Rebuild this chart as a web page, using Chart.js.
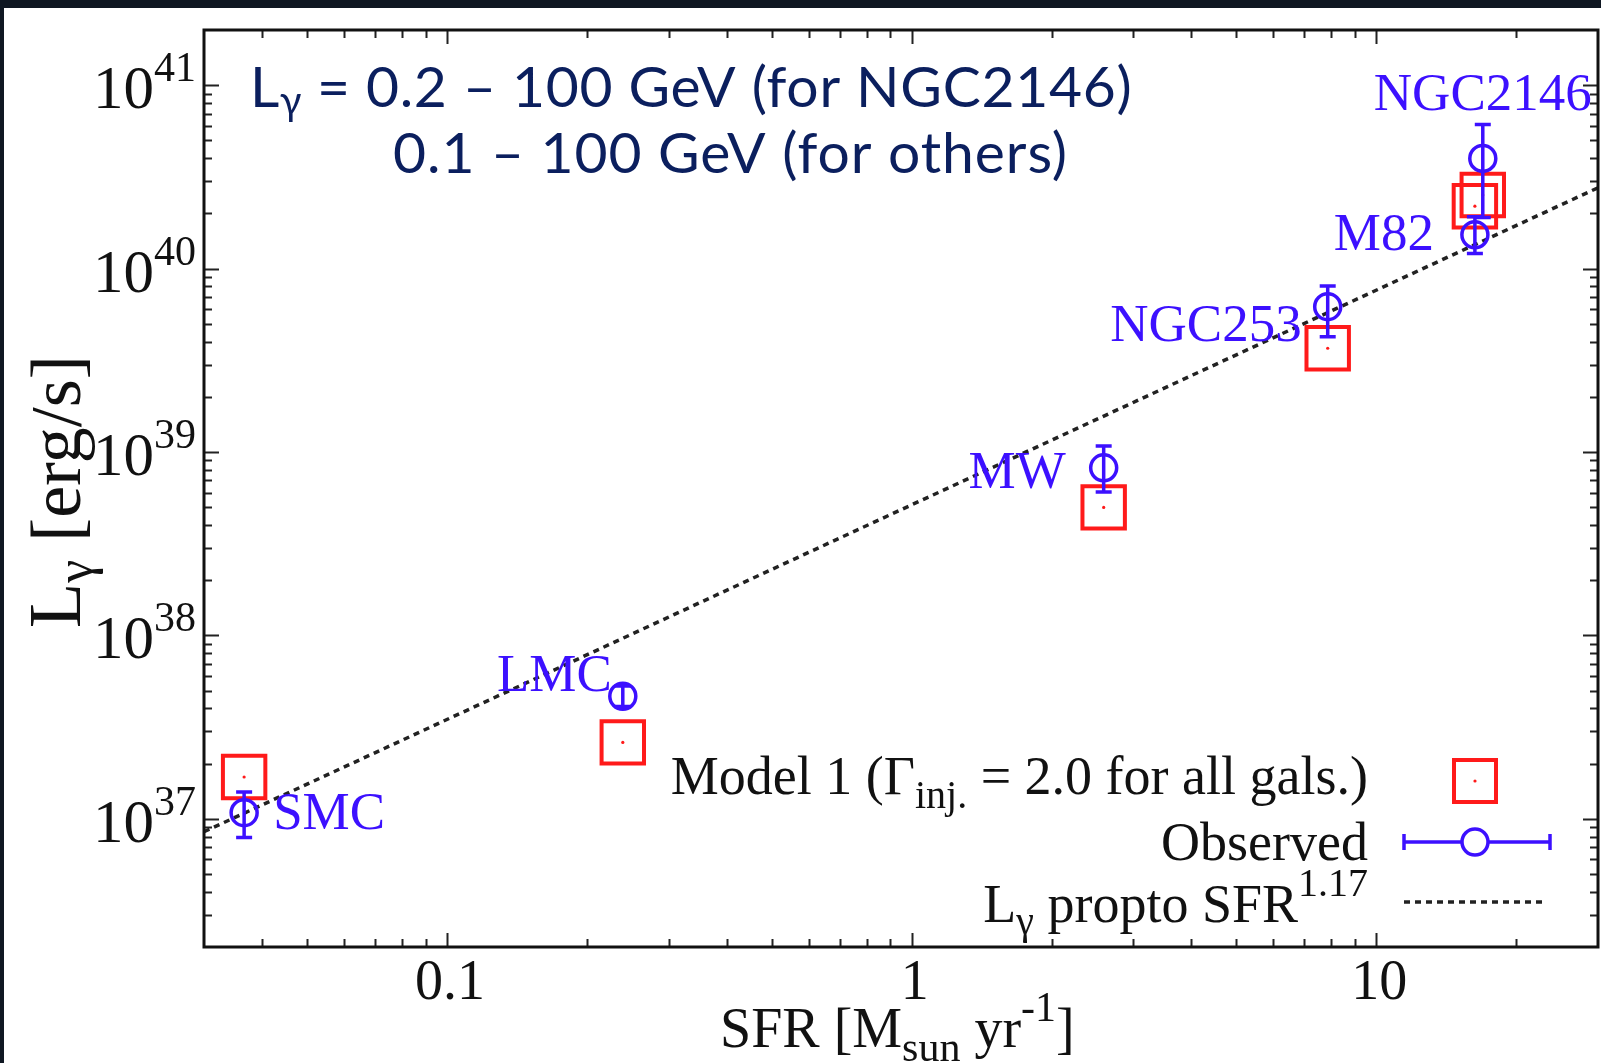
<!DOCTYPE html>
<html>
<head>
<meta charset="utf-8">
<script src="https://cdn.jsdelivr.net/npm/chart.js@4.4.1/dist/chart.umd.min.js"></script>
<style>
  html, body { margin: 0; padding: 0; background: #0f1722; overflow: hidden; }
  canvas { display: block; }
</style>
</head>
<body>
<canvas id="c" width="1601" height="1063" style="width:1601px;height:1063px"></canvas>
<script>
// Star-forming galaxies: star formation rate [Msun/yr] and gamma-ray luminosity [erg/s]
const galaxies   = ['SMC', 'LMC', 'MW', 'NGC253', 'M82', 'NGC2146'];
const sfr        = [0.0366, 0.239, 2.59, 7.86, 16.3, 16.95];
const obsLum     = [1.08e37, 4.66e37, 8.2e38, 6.2e39, 1.53e40, 3.99e40];
const obsLumLow  = [7.9e36, 4.1e37, 6.05e38, 4.25e39, 1.21e40, 1.9e40];
const obsLumHigh = [1.40e37, 5.3e37, 1.08e39, 8.05e39, 1.92e40, 6.1e40];
const modelLum   = [1.69e37, 2.61e37, 4.99e38, 3.68e39, 2.19e40, 2.52e40];

// Power-law relation L ~ SFR^1.17, end points of the drawn segment
const fitSfr = [0.03, 30];
const fitLum = [8.5e36, 2.76e40];

// Axis ticks
const xMajorTicks = [0.1, 1, 10];
const xTickLabels = ['0.1', '1', '10'];
const yMajorTicks = [1e37, 1e38, 1e39, 1e40, 1e41];
const yTickExponents = ['37', '38', '39', '40', '41'];
const minorMantissas = [2, 3, 4, 5, 6, 7, 8, 9];

// Label placement relative to each observed point: [dx, dy, align]
const labelPlacement = [
  [29, 16, 'left'],
  [-11, -5, 'right'],
  [-38, 20, 'right'],
  [-26, 34, 'right'],
  [-41, 15, 'right'],
  [0, -48, 'center']
];

const SERIF = '"Liberation Serif", "Times New Roman", serif';
const SANS = 'Lato, "Open Sans", sans-serif';
const BLUE = '#3c10ff';
const RED = '#ff1a1a';
const NAVY = '#0b1f5e';

function pts(xs, ys) { return xs.map((x, i) => ({ x: x, y: ys[i] })); }

function setFont(ctx, p) {
  ctx.font = (p.style || '') + ' ' + p.size + 'px ' + (p.family || SERIF);
  ctx.letterSpacing = p.ls ? p.ls + 'px' : '0px';
}
function richWidth(ctx, parts) {
  let w = 0;
  for (const p of parts) { setFont(ctx, p); w += ctx.measureText(p.t).width + (p.gap || 0); }
  return w;
}
function drawRich(ctx, parts, x, y, align, color) {
  const w = richWidth(ctx, parts);
  let cx = align === 'right' ? x - w : (align === 'center' ? x - w / 2 : x);
  ctx.textAlign = 'left';
  ctx.textBaseline = 'alphabetic';
  ctx.fillStyle = color;
  for (const p of parts) {
    setFont(ctx, p);
    ctx.fillText(p.t, cx, y + (p.dy || 0));
    cx += ctx.measureText(p.t).width + (p.gap || 0);
  }
  ctx.letterSpacing = '0px';
}

// Dark frame with the white page on top
const pagePlugin = {
  id: 'page',
  beforeDraw(chart) {
    const ctx = chart.ctx;
    ctx.save();
    ctx.fillStyle = '#0f1722';
    ctx.fillRect(0, 0, chart.width, chart.height);
    ctx.fillStyle = '#ffffff';
    ctx.fillRect(4, 8, chart.width - 4, chart.height - 8);
    ctx.restore();
  }
};

// Vertical error bars on the observed luminosities
const errorBarPlugin = {
  id: 'errorBars',
  afterDatasetsDraw(chart) {
    const ctx = chart.ctx, xs = chart.scales.x, ys = chart.scales.y;
    ctx.save();
    ctx.strokeStyle = BLUE;
    ctx.lineWidth = 3.5;
    for (let i = 0; i < sfr.length; i++) {
      const x = xs.getPixelForValue(sfr[i]);
      const y1 = ys.getPixelForValue(obsLumLow[i]);
      const y2 = ys.getPixelForValue(obsLumHigh[i]);
      ctx.beginPath();
      ctx.moveTo(x, y1); ctx.lineTo(x, y2);
      ctx.moveTo(x - 8, y1); ctx.lineTo(x + 8, y1);
      ctx.moveTo(x - 8, y2); ctx.lineTo(x + 8, y2);
      ctx.stroke();
    }
    ctx.restore();
  }
};

// Border box, inward ticks on all four sides, tick labels, titles, legend and notes
const framePlugin = {
  id: 'frame',
  afterDraw(chart) {
    const ctx = chart.ctx, xs = chart.scales.x, ys = chart.scales.y;
    const a = chart.chartArea;
    ctx.save();

    // ticks
    ctx.strokeStyle = '#222';
    ctx.lineWidth = 2;
    const xMinor = [], yMinor = [];
    for (let e = -2; e <= 1; e++) for (const m of minorMantissas) {
      const v = m * Math.pow(10, e);
      if (v > xs.min * 1.0001 && v < xs.max * 0.9999) xMinor.push(v);
    }
    for (let e = 36; e <= 41; e++) for (const m of minorMantissas) {
      const v = m * Math.pow(10, e);
      if (v > ys.min * 1.0001 && v < ys.max * 0.9999) yMinor.push(v);
    }
    ctx.beginPath();
    const xt = (v, len) => {
      const p = Math.round(xs.getPixelForValue(v)) + 0.5;
      ctx.moveTo(p, a.bottom); ctx.lineTo(p, a.bottom - len);
      ctx.moveTo(p, a.top); ctx.lineTo(p, a.top + len);
    };
    const yt = (v, len) => {
      const p = Math.round(ys.getPixelForValue(v)) + 0.5;
      ctx.moveTo(a.left, p); ctx.lineTo(a.left + len, p);
      ctx.moveTo(a.right, p); ctx.lineTo(a.right - len, p);
    };
    xMinor.forEach(v => xt(v, 8));
    xMajorTicks.forEach(v => xt(v, 14));
    yMinor.forEach(v => yt(v, 8));
    yMajorTicks.forEach(v => yt(v, 15));
    ctx.stroke();

    // border
    ctx.strokeStyle = '#111';
    ctx.lineWidth = 3;
    ctx.strokeRect(a.left, a.top, a.right - a.left, a.bottom - a.top);

    // x tick labels
    xMajorTicks.forEach((v, i) => {
      drawRich(ctx, [{ t: xTickLabels[i], size: 56 }], xs.getPixelForValue(v) + 3, 999, 'center', '#111');
    });
    // y tick labels
    yMajorTicks.forEach((v, i) => {
      const p = ys.getPixelForValue(v);
      drawRich(ctx, [{ t: '10', size: 61 }, { t: yTickExponents[i], size: 42, dy: -27 }], 196, p + 23, 'right', '#111');
    });

    // axis titles
    drawRich(ctx, [
      { t: 'SFR [M', size: 56 },
      { t: 'sun', size: 42, dy: 14 },
      { t: ' yr', size: 56 },
      { t: '-1', size: 42, dy: -26 },
      { t: ']', size: 56 }
    ], 720, 1047, 'left', '#111');
    ctx.save();
    ctx.translate(80, 628);
    ctx.rotate(-Math.PI / 2);
    drawRich(ctx, [
      { t: 'L', size: 74 },
      { t: 'γ', size: 52, dy: 12 },
      { t: ' [erg/s]', size: 72 }
    ], 0, 0, 'left', '#111');
    ctx.restore();

    // galaxy names
    galaxies.forEach((g, i) => {
      const px = xs.getPixelForValue(sfr[i]);
      const py = ys.getPixelForValue(obsLum[i]);
      const [dx, dy, al] = labelPlacement[i];
      drawRich(ctx, [{ t: g, size: 53 }], px + dx, py + dy, al, BLUE);
    });

    // energy band note
    drawRich(ctx, [
      { t: 'L', size: 57, family: SANS, ls: 0.6 },
      { t: 'γ', size: 40, dy: 8, family: SANS },
      { t: ' = 0.2 – 100 GeV (for NGC2146)', size: 57, family: SANS, ls: 0.7 }
    ], 250, 107, 'left', NAVY);
    drawRich(ctx, [{ t: '0.1 – 100 GeV (for others)', size: 57, family: SANS, ls: 0.95 }], 393, 173, 'left', NAVY);

    // legend
    const lx = 1368, sx = 1475;
    drawRich(ctx, [
      { t: 'Model 1 (Γ', size: 54 },
      { t: 'inj.', size: 40, dy: 14 },
      { t: ' = 2.0 for all gals.)', size: 54 }
    ], lx, 794, 'right', '#111');
    ctx.strokeStyle = RED; ctx.lineWidth = 4;
    ctx.strokeRect(sx - 21, 781 - 21, 42, 42);
    ctx.fillStyle = RED;
    ctx.beginPath(); ctx.arc(sx, 781, 1.6, 0, Math.PI * 2); ctx.fill();

    drawRich(ctx, [{ t: 'Observed', size: 54 }], lx, 860, 'right', '#111');
    ctx.strokeStyle = BLUE; ctx.lineWidth = 3.5;
    ctx.beginPath();
    ctx.moveTo(1404, 842); ctx.lineTo(sx - 13, 842);
    ctx.moveTo(sx + 13, 842); ctx.lineTo(1550, 842);
    ctx.moveTo(1404, 834); ctx.lineTo(1404, 850);
    ctx.moveTo(1550, 834); ctx.lineTo(1550, 850);
    ctx.stroke();
    ctx.beginPath(); ctx.arc(sx, 842, 13, 0, Math.PI * 2); ctx.stroke();

    drawRich(ctx, [
      { t: 'L', size: 54 },
      { t: 'γ', size: 40, dy: 12 },
      { t: ' propto SFR', size: 54 },
      { t: '1.17', size: 40, dy: -26 }
    ], lx, 922, 'right', '#111');
    ctx.strokeStyle = '#222'; ctx.lineWidth = 3.5; ctx.setLineDash([6, 5]);
    ctx.beginPath(); ctx.moveTo(1404, 902); ctx.lineTo(1547, 902); ctx.stroke();
    ctx.setLineDash([]);

    ctx.restore();
  }
};

new Chart(document.getElementById('c'), {
  type: 'scatter',
  data: {
    datasets: [
      {
        label: 'Observed',
        data: pts(sfr, obsLum),
        pointStyle: 'circle', pointRadius: 13, borderWidth: 3.5,
        borderColor: BLUE, backgroundColor: 'rgba(0,0,0,0)', order: 0
      },
      {
        label: 'Model 1 centre',
        data: pts(sfr, modelLum),
        pointStyle: 'circle', pointRadius: 1.6, borderWidth: 0,
        backgroundColor: RED, order: 1
      },
      {
        label: 'Model 1',
        data: pts(sfr, modelLum),
        pointStyle: 'rect', pointRadius: 30, borderWidth: 4,
        borderColor: RED, backgroundColor: 'rgba(0,0,0,0)', order: 2
      },
      {
        label: 'L propto SFR^1.17',
        type: 'line',
        data: pts(fitSfr, fitLum),
        borderColor: '#222', borderWidth: 3.5, borderDash: [6, 5],
        pointRadius: 0, fill: false, order: 3
      }
    ]
  },
  options: {
    responsive: false,
    animation: false,
    devicePixelRatio: 1,
    events: [],
    layout: { autoPadding: false, padding: { left: 204, top: 30, right: 3, bottom: 116 } },
    scales: {
      x: { type: 'logarithmic', min: 0.03, max: 30, display: false },
      y: { type: 'logarithmic', min: 2e36, max: 2e41, display: false }
    },
    plugins: { legend: { display: false }, tooltip: { enabled: false } }
  },
  plugins: [pagePlugin, errorBarPlugin, framePlugin]
});
</script>
</body>
</html>
